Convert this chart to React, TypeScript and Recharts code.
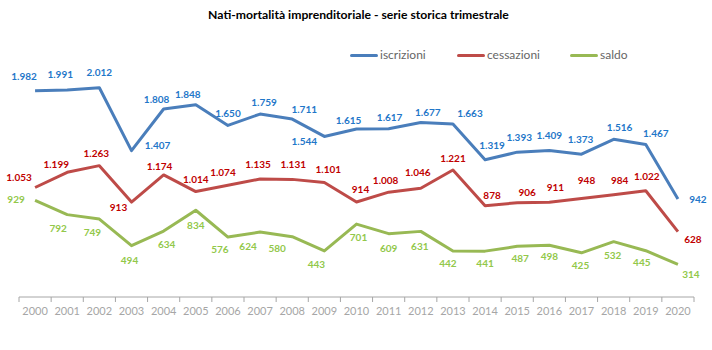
import React from "react";
import { LineChart, Line, XAxis, YAxis } from "recharts";

document.body.style.margin = "0";

const years = [
    "2000", "2001", "2002", "2003", "2004", "2005", "2006", "2007", "2008", "2009", "2010",
    "2011", "2012", "2013", "2014", "2015", "2016", "2017", "2018", "2019", "2020",
];
const iscrizioni = [
    1982, 1991, 2012, 1407, 1808, 1848, 1650, 1759, 1711, 1544, 1615,
    1617, 1677, 1663, 1319, 1393, 1409, 1373, 1516, 1467, 942,
];
const cessazioni = [
    1053, 1199, 1263, 913, 1174, 1014, 1074, 1135, 1131, 1101, 914,
    1008, 1046, 1221, 878, 906, 911, 948, 984, 1022, 628,
];
const saldo = [
    929, 792, 749, 494, 634, 834, 576, 624, 580, 443, 701,
    609, 631, 442, 441, 487, 498, 425, 532, 445, 314,
];

// where each data label sits relative to its point (dx, dy)
const iscrOffsets = [
    [-11, -15], [-7, -16], [0, -16], [26, -6], [-7, -10], [-8, -11], [0, -12], [4, -12], [12, -10], [-20, 5], [-8, -9],
    [1, -12], [7, -11], [17, -11], [7, -15], [2, -15], [0, -15], [-1, -15], [6, -12], [10, -11], [20, 0],
];
const cessOffsets = [
    [-16, -10], [-11, -8], [-3, -13], [-13, 5], [-4, -9], [0, -13], [-5, -13], [-2, -15], [1, -15], [4, -13], [4, -13],
    [-3, -12], [-3, -16], [0, -12], [7, -11], [10, -11], [6, -15], [5, -18], [6, -15], [1, -15], [15, 7],
];
const saldoOffsets = [
    [-19, -1], [-9, 13], [-7, 13], [-2, 14], [3, 13], [0, 15], [-8, 12], [-12, 14], [-15, 11], [-8, 13], [2, 13],
    [0, 14], [-1, 15], [-5, 12], [0, 12], [3, 12], [0, 11], [-1, 12], [-1, 13], [-4, 11], [13, 10],
];

const data = years.map((y, i) => ({
    anno: y,
    iscrizioni: iscrizioni[i],
    cessazioni: cessazioni[i],
    saldo: saldo[i],
}));

const FONT = "Lato, 'Open Sans', sans-serif";
const PLOT_W = 712 - 19 - 18;
const HALF = PLOT_W / years.length / 2;

const fmt = (n: number) =>
    n >= 1000 ? `${Math.floor(n / 1000)}.${String(n % 1000).padStart(3, "0")}` : String(n);

const makeLabel = (color: string, offsets: number[][]) => (props: any) => {
    const { x, y, value, index } = props;
    if (x == null || y == null) return null;
    const [dx, dy] = offsets[index] || [0, -12];
    return (
        <text
            x={x + dx}
            y={y + dy}
            fill={color}
            fontSize={10}
            fontWeight={700}
            fontFamily={FONT}
            textAnchor="middle"
            dominantBaseline="central"
        >
            {fmt(value)}
        </text>
    );
};

const YearTick = (props: any) => {
    const { x, y, payload, index } = props;
    return (
        <g>
            <line x1={x - HALF} x2={x - HALF} y1={y - 8} y2={y - 3} stroke="#A6A6A6" />
            {index === years.length - 1 && (
                <line x1={x + HALF} x2={x + HALF} y1={y - 8} y2={y - 3} stroke="#A6A6A6" />
            )}
            <text
                x={x}
                y={y + 10}
                fill="#A6A6A6"
                fontSize={11}
                fontFamily={FONT}
                textAnchor="middle"
            >
                {payload.value}
            </text>
        </g>
    );
};

const legendItems = [
    { name: "iscrizioni", color: "#4A7EBB", left: 350 },
    { name: "cessazioni", color: "#BE4B48", left: 457 },
    { name: "saldo", color: "#98B954", left: 570 },
];

export default function App() {
    return (
        <div style={{ position: "relative", width: 712, height: 350, background: "#fff" }}>
            <div
                style={{
                    position: "absolute",
                    top: 7,
                    left: 0,
                    width: 717,
                    textAlign: "center",
                    fontFamily: FONT,
                    fontWeight: 700,
                    fontSize: 12.2,
                    color: "#000",
                }}
            >
                Nati-mortalità imprenditoriale - serie storica trimestrale
            </div>
            {legendItems.map((it) => (
                <div
                    key={it.name}
                    style={{
                        position: "absolute",
                        top: 47,
                        left: it.left,
                        display: "flex",
                        alignItems: "center",
                        fontFamily: FONT,
                        fontSize: 12,
                        color: "#666",
                        lineHeight: "16px",
                    }}
                >
                    <span
                        style={{
                            display: "inline-block",
                            width: 28,
                            height: 3,
                            background: it.color,
                            borderRadius: 2,
                            marginRight: 2,
                        }}
                    />
                    {it.name}
                </div>
            ))}
            <div style={{ position: "absolute", top: 0, left: 0 }}>
                <LineChart
                    width={712}
                    height={350}
                    data={data}
                    margin={{ top: 37, right: 18, bottom: 23, left: 19 }}
                >
                    <XAxis
                        dataKey="anno"
                        height={30}
                        interval={0}
                        tickLine={false}
                        padding={{ left: HALF, right: HALF }}
                        axisLine={{ stroke: "#A6A6A6" }}
                        tick={<YearTick />}
                    />
                    <YAxis hide domain={[0, 2500]} />
                    <Line
                        dataKey="iscrizioni"
                        stroke="#4A7EBB"
                        strokeWidth={3}
                        dot={false}
                        strokeLinejoin="round"
                        isAnimationActive={false}
                        label={makeLabel("#1F77C9", iscrOffsets)}
                    />
                    <Line
                        dataKey="cessazioni"
                        stroke="#BE4B48"
                        strokeWidth={3}
                        dot={false}
                        strokeLinejoin="round"
                        isAnimationActive={false}
                        label={makeLabel("#C00000", cessOffsets)}
                    />
                    <Line
                        dataKey="saldo"
                        stroke="#98B954"
                        strokeWidth={3}
                        dot={false}
                        strokeLinejoin="round"
                        isAnimationActive={false}
                        label={makeLabel("#92C84A", saldoOffsets)}
                    />
                </LineChart>
            </div>
        </div>
    );
}
